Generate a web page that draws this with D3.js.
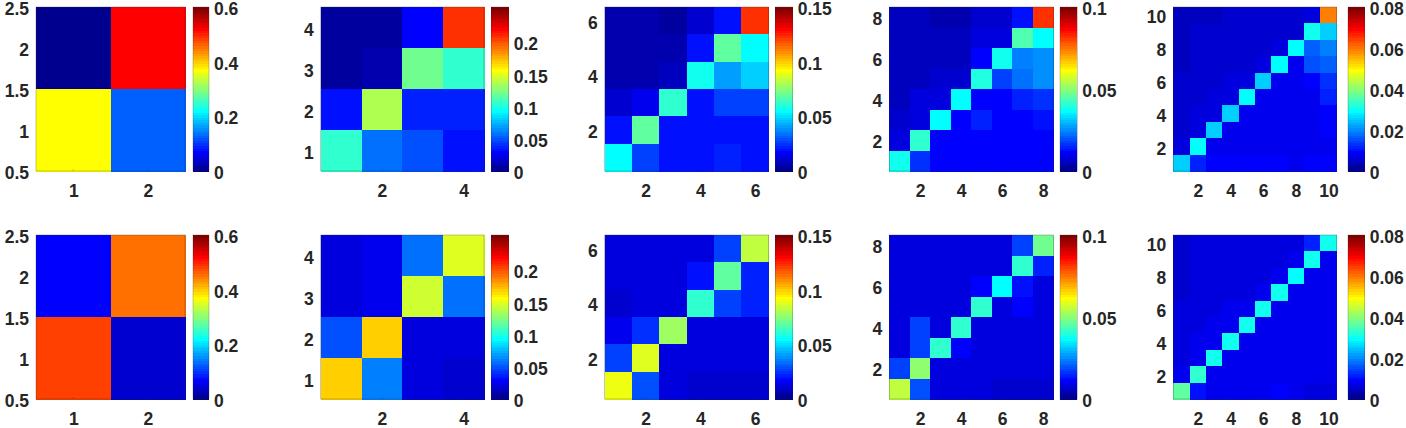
<!DOCTYPE html>
<html><head><meta charset="utf-8">
<script src="https://cdn.jsdelivr.net/npm/d3@7"></script>
<style>html,body{margin:0;padding:0;background:#fff;}svg{display:block;}</style>
</head><body><svg id="c" width="1406" height="428"></svg>
<script>
// ---------- DATA ----------
const sizes = [2, 4, 6, 8, 10];
const colorMax = [0.6, 0.255, 0.15, 0.1, 0.08];
const cbTicks = [[0,0.2,0.4,0.6],[0,0.05,0.1,0.15,0.2],[0,0.05,0.1,0.15],[0,0.05,0.1],[0,0.02,0.04,0.06,0.08]];
const xTicks = [[1,2],[2,4],[2,4,6],[2,4,6,8],[2,4,6,8,10]];
const yTicks = [[0.5,1,1.5,2,2.5],[1,2,3,4],[2,4,6],[2,4,6,8],[2,4,6,8,10]];

// matrices listed from top row (y = n) down to bottom row (y = 1); columns x = 1..n
const top1 = [[0.005,0.52],[0.37,0.13]];
const top2 = [
 [0.005,0.005,0.030,0.208],
 [0.005,0.010,0.123,0.105],
 [0.033,0.137,0.036,0.036],
 [0.107,0.057,0.048,0.033]];
const top3 = [
 [0.006,0.006,0.0045,0.010,0.020,0.122],
 [0.006,0.006,0.006,0.020,0.068,0.056],
 [0.006,0.006,0.009,0.057,0.041,0.047],
 [0.011,0.015,0.063,0.019,0.027,0.027],
 [0.019,0.069,0.019,0.019,0.019,0.019],
 [0.056,0.027,0.020,0.020,0.022,0.020]];
const top4 = [
 [0.006,0.006,0.004,0.004,0.007,0.007,0.013,0.0815],
 [0.006,0.006,0.006,0.006,0.008,0.008,0.044,0.037],
 [0.006,0.006,0.006,0.006,0.012,0.038,0.024,0.026],
 [0.006,0.006,0.007,0.007,0.040,0.018,0.0225,0.025],
 [0.006,0.009,0.009,0.037,0.012,0.011,0.015,0.016],
 [0.007,0.009,0.037,0.011,0.015,0.011,0.011,0.013],
 [0.008,0.041,0.011,0.011,0.011,0.011,0.011,0.011],
 [0.038,0.017,0.012,0.012,0.012,0.012,0.012,0.012]];
const top5 = [
 [0.004,0.004,0.004,0.005,0.005,0.005,0.005,0.005,0.007,0.059],
 [0.004,0.005,0.005,0.005,0.005,0.006,0.006,0.006,0.030,0.026],
 [0.004,0.005,0.005,0.005,0.006,0.006,0.007,0.029,0.017,0.019],
 [0.004,0.005,0.005,0.006,0.006,0.007,0.029,0.008,0.015,0.017],
 [0.005,0.006,0.006,0.007,0.007,0.026,0.008,0.008,0.009,0.013],
 [0.005,0.006,0.007,0.007,0.029,0.008,0.008,0.008,0.008,0.012],
 [0.006,0.007,0.007,0.026,0.008,0.008,0.008,0.008,0.008,0.009],
 [0.006,0.007,0.026,0.008,0.008,0.008,0.008,0.008,0.008,0.009],
 [0.007,0.029,0.008,0.008,0.008,0.008,0.008,0.008,0.008,0.008],
 [0.025,0.012,0.009,0.009,0.009,0.009,0.009,0.008,0.009,0.009]];
const bot1 = [[0.07,0.45],[0.48,0.04]];
const bot2 = [
 [0.020,0.025,0.057,0.150],
 [0.020,0.025,0.145,0.058],
 [0.051,0.168,0.023,0.020],
 [0.171,0.061,0.020,0.018]];
const bot3 = [
 [0.012,0.012,0.012,0.012,0.027,0.084],
 [0.012,0.012,0.012,0.019,0.068,0.023],
 [0.010,0.012,0.012,0.063,0.027,0.023],
 [0.015,0.025,0.078,0.014,0.014,0.012],
 [0.027,0.087,0.014,0.012,0.012,0.012],
 [0.090,0.030,0.014,0.011,0.011,0.010]];
const bot4 = [
 [0.008,0.008,0.008,0.008,0.008,0.008,0.018,0.047],
 [0.008,0.008,0.008,0.008,0.008,0.008,0.042,0.015],
 [0.008,0.008,0.008,0.008,0.012,0.037,0.014,0.009],
 [0.008,0.008,0.008,0.008,0.041,0.008,0.012,0.009],
 [0.009,0.018,0.009,0.042,0.009,0.009,0.009,0.009],
 [0.009,0.018,0.041,0.012,0.009,0.009,0.009,0.009],
 [0.018,0.050,0.009,0.009,0.009,0.009,0.009,0.009],
 [0.056,0.019,0.009,0.009,0.009,0.007,0.007,0.007]];
const bot5 = [
 [0.006,0.007,0.007,0.007,0.007,0.007,0.007,0.007,0.012,0.031],
 [0.006,0.007,0.007,0.007,0.007,0.007,0.007,0.008,0.030,0.008],
 [0.006,0.007,0.007,0.007,0.007,0.007,0.008,0.029,0.008,0.008],
 [0.006,0.007,0.007,0.007,0.007,0.008,0.030,0.008,0.008,0.008],
 [0.007,0.007,0.007,0.008,0.008,0.030,0.008,0.008,0.008,0.008],
 [0.007,0.007,0.008,0.008,0.030,0.008,0.008,0.008,0.008,0.008],
 [0.007,0.008,0.008,0.030,0.008,0.008,0.008,0.008,0.008,0.008],
 [0.007,0.008,0.030,0.008,0.008,0.008,0.008,0.008,0.008,0.008],
 [0.008,0.033,0.008,0.008,0.008,0.008,0.008,0.008,0.008,0.008],
 [0.037,0.011,0.008,0.008,0.008,0.008,0.009,0.008,0.007,0.007]];
const matrices = [[top1,top2,top3,top4,top5],[bot1,bot2,bot3,bot4,bot5]];

// ---------- LAYOUT ----------
const plotX0 = [36, 320.7, 604.7, 889.3, 1173.3];
const plotX1 = [185, 484, 768.7, 1053.3, 1336.7];
const cbX0 = [193, 491.3, 775.3, 1060, 1348];
const cbX1 = [209, 508.7, 792.7, 1077.3, 1364.7];
const rowY0 = [7, 235];
const rowY1 = [171, 399];
const FS = 17.5;

// MATLAB jet(64)
function jetMap(m){
  const n = Math.ceil(m/4);
  const u = [];
  for (let i=1;i<=n;i++) u.push(i/n);
  for (let i=0;i<n-1;i++) u.push(1);
  for (let i=n;i>=1;i--) u.push(i/n);
  const off = Math.ceil(n/2) - (m%4===1?1:0);
  const J = Array.from({length:m},()=>[0,0,0]);
  u.forEach((v,k)=>{
    const g = off + k + 1, r = g + n, b = g - n;
    if (r>=1 && r<=m) J[r-1][0]=v;
    if (g>=1 && g<=m) J[g-1][1]=v;
    if (b>=1 && b<=m) J[b-1][2]=v;
  });
  return J.map(c=>d3.rgb(c[0]*255,c[1]*255,c[2]*255).formatHex());
}
const JET = jetMap(64);
function colorOf(v, cmax){
  let idx = Math.floor(v/cmax*64);
  idx = Math.max(0, Math.min(63, idx));
  return JET[idx];
}

const svg = d3.select('#c');
const txt = '#262626';
const font = '"Liberation Sans", Arial, Helvetica, sans-serif';

for (let r=0;r<2;r++){
  for (let p=0;p<5;p++){
    const n = sizes[p], cmax = colorMax[p];
    const M = matrices[r][p];
    const x = d3.scaleLinear().domain([0.5, n+0.5]).range([plotX0[p], plotX1[p]]);
    const y = d3.scaleLinear().domain([0.5, n+0.5]).range([rowY1[r], rowY0[r]]);
    const cells = [];
    M.forEach((row, ri)=>{
      const yv = n - ri;
      row.forEach((v, ci)=> cells.push({x: ci+1, y: yv, v}));
    });
    const g = svg.append('g');
    g.selectAll('rect.cell').data(cells).enter().append('rect')
      .attr('shape-rendering','crispEdges')
      .attr('x', d=>x(d.x-0.5)).attr('y', d=>y(d.y+0.5))
      .attr('width', d=>x(d.x+0.5)-x(d.x-0.5)+0.5)
      .attr('height', d=>y(d.y-0.5)-y(d.y+0.5)+0.5)
      .attr('fill', d=>colorOf(d.v, cmax));
    // box
    g.append('rect').attr('x', plotX0[p]).attr('y', rowY0[r])
      .attr('width', plotX1[p]-plotX0[p]).attr('height', rowY1[r]-rowY0[r])
      .attr('fill','none').attr('stroke', txt).attr('stroke-opacity',0.45).attr('stroke-width',0.6);
    // x ticks
    const xa = d3.axisBottom(x).tickValues(xTicks[p]).tickSize(0).tickPadding(0).tickFormat(d=>String(d));
    const gx = g.append('g').attr('transform', `translate(0,${rowY1[r]})`).call(xa);
    gx.select('.domain').remove();
    gx.selectAll('text').attr('dy', null).attr('y', 26)
      .attr('font-family', font).attr('font-weight','bold').attr('font-size', FS).attr('fill', txt);
    // y ticks
    const ya = d3.axisLeft(y).tickValues(yTicks[p]).tickSize(0).tickPadding(7).tickFormat(d=>String(d));
    const gy = g.append('g').attr('transform', `translate(${plotX0[p]},2)`).call(ya);
    gy.select('.domain').remove();
    gy.selectAll('text').attr('font-family', font).attr('font-weight','bold').attr('font-size', FS).attr('fill', txt);
    // tiny inward tick marks
    g.selectAll('line.xt').data(xTicks[p]).enter().append('line')
      .attr('x1', d=>x(d)).attr('x2', d=>x(d)).attr('y1', rowY1[r]).attr('y2', rowY1[r]-2)
      .attr('stroke', txt).attr('stroke-opacity',0.4).attr('stroke-width',0.6);
    // colorbar
    const cs = d3.scaleLinear().domain([0, cmax]).range([rowY1[r], rowY0[r]]);
    const bands = d3.range(64);
    g.selectAll('rect.cb').data(bands).enter().append('rect')
      .attr('shape-rendering','crispEdges')
      .attr('x', cbX0[p]).attr('width', cbX1[p]-cbX0[p])
      .attr('y', i=>cs((i+1)/64*cmax)).attr('height', i=>cs(i/64*cmax)-cs((i+1)/64*cmax)+0.6)
      .attr('fill', i=>JET[i]);
    g.append('rect').attr('x', cbX0[p]).attr('y', rowY0[r])
      .attr('width', cbX1[p]-cbX0[p]).attr('height', rowY1[r]-rowY0[r])
      .attr('fill','none').attr('stroke', txt).attr('stroke-opacity',0.4).attr('stroke-width',0.6);
    const ca = d3.axisRight(cs).tickValues(cbTicks[p]).tickSize(0).tickPadding(5).tickFormat(d=>String(d));
    const gc = g.append('g').attr('transform', `translate(${cbX1[p]},2)`).call(ca);
    gc.select('.domain').remove();
    gc.selectAll('text').attr('font-family', font).attr('font-weight','bold').attr('font-size', FS).attr('fill', txt);
  }
}
</script></body></html>
